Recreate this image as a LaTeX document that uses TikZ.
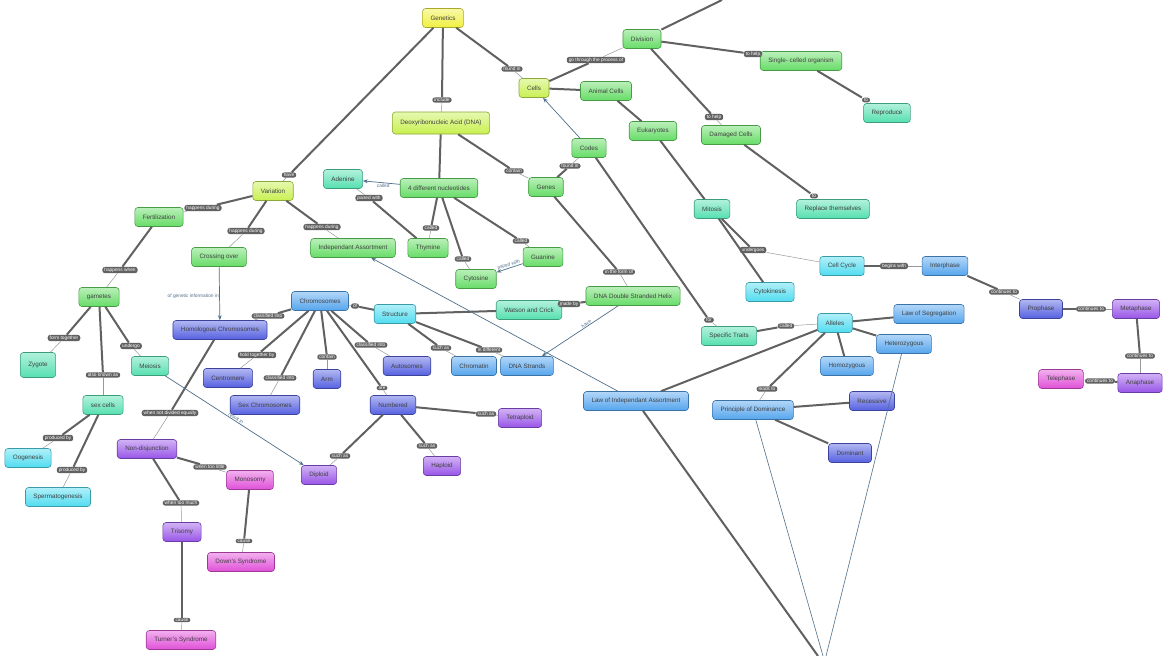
\documentclass[tikz,border=0pt]{standalone}
\usepackage{fontspec}
\setmainfont{Liberation Sans}
\usetikzlibrary{arrows.meta}
\begin{document}
\begin{tikzpicture}[x=1pt,y=-1pt,
 box/.style={rounded corners=3pt,draw=#1!70!black,line width=0.6pt,top color=#1!45!white,bottom color=#1,font=\fontsize{6.3}{7}\selectfont,text=black!75,minimum height=19pt,inner xsep=8pt},
 Y/.style={box=yY}, YG/.style={box=yG}, G/.style={box=gG}, T/.style={box=tT}, C/.style={box=cC}, B/.style={box=bB}, I/.style={box=iI}, P/.style={box=pP}, K/.style={box=kK},
 lab/.style={rounded corners=2.5pt,fill=black!62,text=white,font=\fontsize{4.8}{5}\selectfont,inner xsep=2pt,inner ysep=0.9pt},
 blab/.style={text=bluegray,font=\fontsize{4.8}{5}\selectfont,inner sep=0.5pt},
 thk/.style={draw=black!62,line width=2pt},
 thn/.style={draw=black!40,line width=0.5pt},
 arr/.style={draw=bluegray,line width=0.7pt,-{Stealth[length=5pt]}}]
\definecolor{yY}{HTML}{F0F040}\definecolor{yG}{HTML}{C8F050}\definecolor{gG}{HTML}{66DD66}
\definecolor{tT}{HTML}{55E0B0}\definecolor{cC}{HTML}{50DDF0}\definecolor{bB}{HTML}{55A5EE}
\definecolor{iI}{HTML}{5560E0}\definecolor{pP}{HTML}{9955E8}\definecolor{kK}{HTML}{E050D8}
\definecolor{bluegray}{HTML}{50708C}
\useasboundingbox (0,0) rectangle (1168,656);
\fill[white] (0,0) rectangle (1168,656);
\newcommand{\lk}[3]{\draw[thk] (#1) -- (#2); \draw[thn] (#2) -- (#3);}
% nodes
\node[Y] (gen) at (443,18) {Genetics};
\node[G] (div) at (642,39) {Division};
\node[YG] (cel) at (534,88) {Cells};
\node[G] (ani) at (606,91) {Animal Cells};
\node[YG,minimum width=82pt,minimum height=22pt] (dna) at (441,123) {Deoxyribonucleic Acid (DNA)};
\node[G] (euk) at (653,131) {Eukaryotes};
\node[G] (sin) at (801,61) {Single- celled organism};
\node[T] (rep) at (887,113) {Reproduce};
\node[G] (dam) at (731,135) {Damaged Cells};
\node[G] (cod) at (589,148) {Codes};
\node[T] (ade) at (343,179) {Adenine};
\node[G] (fou) at (439,188) {4 different nucleotides};
\node[G] (gns) at (546,187) {Genes};
\node[YG] (var) at (273,191) {Variation};
\node[G] (fer) at (159,217) {Fertilization};
\node[T] (rpl) at (833,209) {Replace themselves};
\node[T] (mit) at (712,209) {Mitosis};
\node[G] (thy) at (428,248) {Thymine};
\node[G] (gua) at (543,257) {Guanine};
\node[G] (cyt) at (476,279) {Cytosine};
\node[G] (ind) at (353,248) {Independant Assortment};
\node[G] (cro) at (219,257) {Crossing over};
\node[C] (ccy) at (842,266) {Cell Cycle};
\node[B] (int) at (945,266) {Interphase};
\node[G] (gam) at (99,297) {gametes};
\node[C] (ctk) at (770,292) {Cytokinesis};
\node[B] (chr) at (320,301) {Chromosomes};
\node[C] (str) at (395,314) {Structure};
\node[T] (wat) at (529,310) {Watson and Crick};
\node[G] (hel) at (633,296) {DNA Double Stranded Helix};
\node[I] (pro) at (1041,309) {Prophase};
\node[P] (met) at (1136,309) {Metaphase};
\node[I] (hom) at (220,330) {Homologous Chromosomes};
\node[T] (spe) at (729,336) {Specific Traits};
\node[C] (all) at (835,323) {Alleles};
\node[B] (seg) at (929,314) {Law of Segregation};
\node[B] (het) at (904,344) {Heterozygous};
\node[T,minimum height=25pt,minimum width=32pt] (zyg) at (38,365) {Zygote};
\node[T] (mei) at (150,366) {Meiosis};
\node[I] (cen) at (228,378) {Centromere};
\node[I] (arm) at (327,379) {Arm};
\node[I] (aut) at (407,366) {Autosomes};
\node[B] (chm) at (474,366) {Chromatin};
\node[B] (dst) at (527,366) {DNA Strands};
\node[B] (hmz) at (847,366) {Homozygous};
\node[I] (sex) at (265,405) {Sex Chromosomes};
\node[I] (num) at (393,405) {Numbered};
\node[P] (tet) at (520,418) {Tetraploid};
\node[B] (lia) at (636,401) {Law of Independant Assortment};
\node[B] (pod) at (753,410) {Principle of Dominance};
\node[I] (rec) at (872,401) {Recessive};
\node[K] (tel) at (1061,379) {Telephase};
\node[P] (ana) at (1140,383) {Anaphase};
\node[T] (sxc) at (103,405) {sex cells};
\node[C] (oog) at (28,458) {Oogenesis};
\node[P] (non) at (147,449) {Non-disjunction};
\node[K] (mon) at (250,480) {Monosomy};
\node[P] (dip) at (319,475) {Diploid};
\node[P] (hap) at (442,466) {Haploid};
\node[I] (dom) at (850,453) {Dominant};
\node[C] (spg) at (58,497) {Spermatogenesis};
\node[P] (tri) at (182,532) {Trisomy};
\node[K] (dow) at (241,562) {Down's Syndrome};
\node[K] (tur) at (181,640) {Turner's Syndrome};
\coordinate (o1) at (722,0);
\coordinate (o2) at (818,656);
\coordinate (o3) at (823,656);
\coordinate (o4) at (826,656);
% labels
\node[lab] (l1) at (289,175) {have};
\node[lab] (l2) at (442,100) {include};
\node[lab] (l3) at (512,69) {found in};
\node[lab] (l4) at (596,60) {go through the process of};
\node[lab] (l5) at (753,54) {to help};
\node[lab] (l6) at (866,100) {to};
\node[lab] (l7) at (714,117) {to help};
\node[lab] (l8) at (814,196) {to};
\node[lab] (l9) at (570,166) {found in};
\node[lab] (l10) at (514,171) {contain};
\node[lab] (l11) at (369,198) {paired with};
\node[lab] (l12) at (431,228) {called};
\node[lab] (l13) at (463,259) {called};
\node[lab] (l14) at (521,241) {called};
\node[lab] (l15) at (619,272) {in the form of};
\node[lab] (l16) at (203,208) {happens during};
\node[lab] (l17) at (246,231) {happens during};
\node[lab] (l18) at (322,227) {happens during};
\node[lab] (l19) at (120,270) {happens when};
\node[lab] (l20) at (64,338) {form together};
\node[lab] (l21) at (103,375) {also known as};
\node[lab] (l22) at (131,346) {undergo};
\node[lab] (l23) at (268,316) {classified into};
\node[lab] (l24) at (355,306) {of};
\node[lab] (l25) at (569,304) {made by};
\node[lab] (l26) at (257,355) {hold together by};
\node[lab] (l27) at (280,378) {classified into};
\node[lab] (l28) at (327,357) {contain};
\node[lab] (l29) at (371,345) {classified into};
\node[lab] (l30) at (382,388) {are};
\node[lab] (l31) at (441,348) {such as};
\node[lab] (l32) at (489,350) {in different};
\node[lab] (l33) at (486,414) {such as};
\node[lab] (l34) at (340,456) {such as};
\node[lab] (l35) at (427,446) {such as};
\node[lab] (l36) at (170,413) {when not divided equally};
\node[lab] (l37) at (210,467) {when too little};
\node[lab] (l38) at (181,503) {when too much};
\node[lab] (l39) at (244,541) {cause};
\node[lab] (l40) at (182,620) {cause};
\node[lab] (l41) at (58,438) {produced by};
\node[lab] (l42) at (72,470) {produced by};
\node[lab] (l43) at (753,250) {undergoes};
\node[lab] (l44) at (894,266) {begins with};
\node[lab] (l45) at (1004,292) {continues to};
\node[lab] (l46) at (1091,309) {continues to};
\node[lab] (l47) at (1140,356) {continues to};
\node[lab] (l48) at (1100,381) {continues to};
\node[lab] (l49) at (709,320) {for};
\node[lab] (l50) at (786,326) {called};
\node[lab] (l51) at (767,389) {leads to};
% connectors
\lk{gen}{l1}{var}
\lk{gen}{l2}{dna}
\lk{gen}{l3}{cel}
\lk{cel}{l4}{div}
\lk{div}{l5}{sin}
\lk{sin}{l6}{rep}
\lk{div}{l7}{dam}
\lk{dam}{l8}{rpl}
\lk{gns}{l9}{cod}
\lk{dna}{l10}{gns}
\lk{thy}{l11}{ade}
\lk{fou}{l12}{thy}
\lk{fou}{l13}{cyt}
\lk{fou}{l14}{gua}
\lk{gns}{l15}{hel}
\lk{var}{l16}{fer}
\lk{var}{l17}{cro}
\lk{var}{l18}{ind}
\lk{fer}{l19}{gam}
\lk{gam}{l20}{zyg}
\lk{gam}{l21}{sxc}
\lk{gam}{l22}{mei}
\lk{chr}{l23}{hom}
\lk{str}{l24}{chr}
\lk{hel}{l25}{wat}
\lk{chr}{l26}{cen}
\lk{chr}{l27}{sex}
\lk{chr}{l28}{arm}
\lk{chr}{l29}{aut}
\lk{chr}{l30}{num}
\lk{str}{l31}{chm}
\lk{str}{l32}{dst}
\lk{num}{l33}{tet}
\lk{num}{l34}{dip}
\lk{num}{l35}{hap}
\lk{hom}{l36}{non}
\lk{non}{l37}{mon}
\lk{non}{l38}{tri}
\lk{mon}{l39}{dow}
\lk{tri}{l40}{tur}
\lk{sxc}{l41}{oog}
\lk{sxc}{l42}{spg}
\lk{mit}{l43}{ccy}
\lk{ccy}{l44}{int}
\lk{int}{l45}{pro}
\lk{pro}{l46}{met}
\lk{met}{l47}{ana}
\lk{ana}{l48}{tel}
\lk{cod}{l49}{spe}
\lk{spe}{l50}{all}
\lk{all}{l51}{pod}
\draw[thk] (div) -- (o1);
\draw[thk] (ani) -- (cel);
\draw[thk] (ani) -- (euk);
\draw[thk] (dna) -- (fou);
\draw[thk] (euk) -- (mit);
\draw[thk] (mit) -- (ctk);
\draw[thk] (wat) -- (str);
\draw[thk] (all) -- (seg);
\draw[thk] (all) -- (het);
\draw[thk] (all) -- (hmz);
\draw[thk] (all) -- (lia);
\draw[thk] (pod) -- (rec);
\draw[thk] (pod) -- (dom);
\draw[thk] (lia) -- (o2);
\draw[draw=bluegray,line width=0.6pt] (pod) -- (o3);
\draw[draw=bluegray,line width=0.6pt] (het) -- (o4);
% arrows
\draw[arr] (fou) -- node[blab,below,pos=0.45] {called} (ade);
\draw[arr] (gua) -- node[blab,above,sloped] {paired with} (cyt);
\draw[arr] (cro) -- node[blab,left,pos=0.55] {of genetic information in} (hom);
\draw[arr] (hel) -- node[blab,above,sloped,pos=0.4] {have} (dst);
\draw[arr] (mei) -- node[blab,above,sloped,pos=0.5] {result in} (dip);
\draw[arr] (cod) -- (cel);
\draw[arr] (lia) -- (ind);
\end{tikzpicture}
\end{document}
